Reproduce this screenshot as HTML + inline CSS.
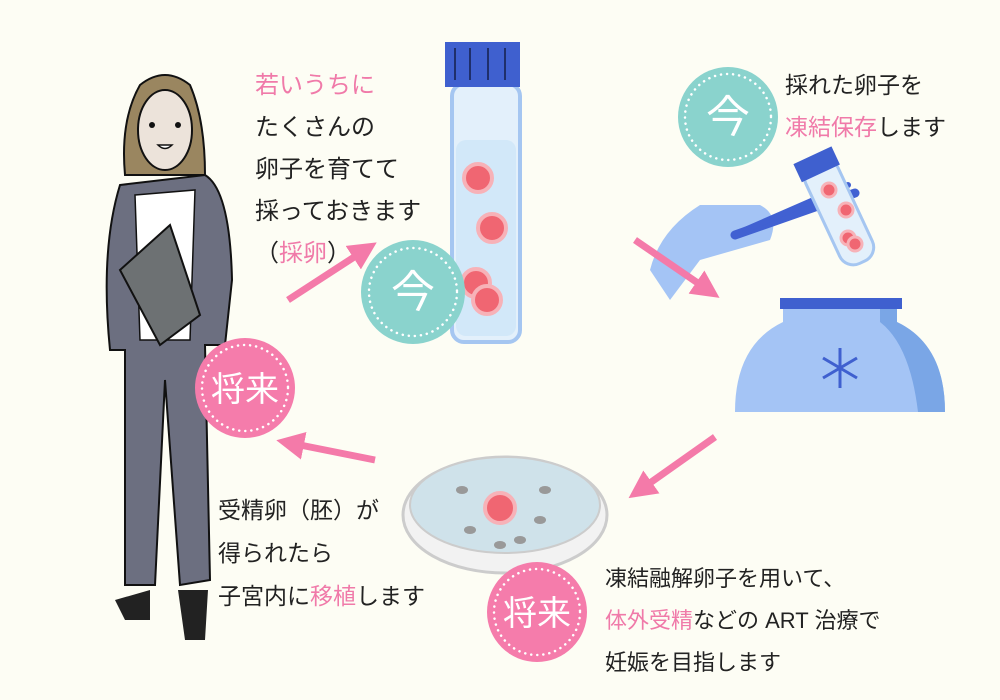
<!DOCTYPE html>
<html><head><meta charset="utf-8"><style>
body{margin:0;background:#fdfdf4}
svg{display:block}
text{font-family:"Liberation Sans","Noto Sans CJK JP",sans-serif;font-size:21px;fill:#222}
.p{fill:#f07aa9}
</style></head><body>
<svg width="1000" height="700" viewBox="0 0 1000 700">
<rect width="1000" height="700" fill="#fdfdf4"/>
<defs><marker id="ah" markerWidth="4" markerHeight="4" refX="2" refY="2" orient="auto"><path d="M0,0 L4,2 L0,4z" fill="#f47aa9"/></marker></defs>
<!-- woman -->
<path d="M140,85 Q165,65 190,85 Q205,120 205,175 L125,175 Q120,120 140,85z" fill="#9a8660" stroke="#111" stroke-width="2"/>
<ellipse cx="165" cy="130" rx="27" ry="40" fill="#ece3da" stroke="#111" stroke-width="2"/>
<circle cx="152" cy="125" r="3" fill="#111"/><circle cx="178" cy="125" r="3" fill="#111"/>
<path d="M158,145 Q165,152 172,145z" fill="#fff" stroke="#111" stroke-width="1.5"/>
<path d="M120,185 L205,175 Q230,190 232,280 L225,345 L205,345 L210,580 L180,585 L165,380 L155,585 L125,585 L125,350 L110,350 Q100,250 120,185z" fill="#6c6f80" stroke="#111" stroke-width="2"/>
<path d="M135,195 L195,190 L190,340 L140,340z" fill="#fff" stroke="#111" stroke-width="1.5"/>
<path d="M120,270 L170,225 L200,315 L160,345z" fill="#6d7173" stroke="#111" stroke-width="2"/>
<path d="M115,600 L150,590 L150,620 L125,620z M178,590 L208,590 L205,640 L185,640z" fill="#222"/>
<!-- tube -->
<rect x="452" y="84" width="68" height="258" rx="12" fill="#e3f0fb" stroke="#a5c6f1" stroke-width="4"/>
<rect x="456" y="140" width="60" height="196" rx="10" fill="#d2e8f9"/>
<rect x="445" y="42" width="75" height="45" fill="#3f60cf"/>
<g stroke="#1f2f6b" stroke-width="2"><line x1="455" y1="48" x2="455" y2="80"/><line x1="470" y1="48" x2="470" y2="80"/><line x1="488" y1="48" x2="488" y2="80"/><line x1="505" y1="48" x2="505" y2="80"/></g>
<g fill="#f06672" stroke="#f7b2b8" stroke-width="4"><circle cx="478" cy="178" r="14"/><circle cx="492" cy="228" r="14"/><circle cx="476" cy="283" r="14"/><circle cx="487" cy="300" r="14"/></g>
<!-- hand & forceps -->
<path d="M650,270 Q660,230 700,205 L760,205 Q780,215 770,240 L700,260 L670,300z" fill="#a4c4f5"/>
<path d="M735,235 L855,193" stroke="#4161d2" stroke-width="9" stroke-linecap="round"/>
<path d="M745,230 L848,185" stroke="#4161d2" stroke-width="6" stroke-linecap="round"/>
<g transform="rotate(-25 830 200)"><rect x="815" y="160" width="36" height="110" rx="15" fill="#e3f0fb" stroke="#a5c6f1" stroke-width="3"/><rect x="812" y="152" width="42" height="20" fill="#3f60cf"/></g>
<g fill="#f06672" stroke="#f7b2b8" stroke-width="3"><circle cx="829" cy="190" r="7"/><circle cx="846" cy="210" r="7"/><circle cx="848" cy="238" r="7"/><circle cx="855" cy="244" r="7"/></g>
<!-- jar -->
<path d="M783,308 L897,308 L897,322 Q945,345 945,412 L735,412 Q735,345 783,322z" fill="#a4c4f5"/>
<path d="M880,308 L897,308 L897,322 Q945,345 945,412 L918,412 Q910,345 880,322z" fill="#7aa6e6"/>
<rect x="780" y="298" width="122" height="11" fill="#3f60cf"/>
<g stroke="#3f60cf" stroke-width="3"><line x1="840" y1="348" x2="840" y2="388"/><line x1="823" y1="358" x2="857" y2="378"/><line x1="823" y1="378" x2="857" y2="358"/></g>
<!-- dish -->
<ellipse cx="505" cy="515" rx="102" ry="58" fill="#f2f2f2" stroke="#ccc" stroke-width="3"/>
<ellipse cx="505" cy="505" rx="95" ry="48" fill="#cfe2ea" stroke="#ccc" stroke-width="2"/>
<circle cx="500" cy="508" r="15" fill="#f06672" stroke="#f7b2b8" stroke-width="4"/>
<g fill="#999"><ellipse cx="462" cy="490" rx="6" ry="4"/><ellipse cx="540" cy="520" rx="6" ry="4"/><ellipse cx="520" cy="540" rx="6" ry="4"/><ellipse cx="470" cy="530" rx="6" ry="4"/><ellipse cx="545" cy="490" rx="6" ry="4"/><ellipse cx="500" cy="545" rx="6" ry="4"/></g>
<!-- arrows -->
<g stroke="#f47aa9" stroke-width="7" marker-end="url(#ah)">
<line x1="288" y1="300" x2="365" y2="250"/>
<line x1="635" y1="240" x2="708" y2="290"/>
<line x1="715" y1="437" x2="640" y2="490"/>
<line x1="375" y1="460" x2="290" y2="443"/>
</g>
<!-- circles -->
<circle cx="413" cy="292" r="52" fill="#8ad3cd"/><circle cx="413" cy="292" r="44" fill="none" stroke="#fff" stroke-width="2.5" stroke-dasharray="0.1 6" stroke-linecap="round"/>
<circle cx="728" cy="117" r="50" fill="#8ad3cd"/><circle cx="728" cy="117" r="43" fill="none" stroke="#fff" stroke-width="2.5" stroke-dasharray="0.1 6" stroke-linecap="round"/>
<circle cx="245" cy="388" r="50" fill="#f57cab"/><circle cx="245" cy="388" r="43" fill="none" stroke="#fff" stroke-width="2.5" stroke-dasharray="0.1 6" stroke-linecap="round"/>
<circle cx="537" cy="612" r="50" fill="#f57cab"/><circle cx="537" cy="612" r="43" fill="none" stroke="#fff" stroke-width="2.5" stroke-dasharray="0.1 6" stroke-linecap="round"/>
<text x="413" y="307" text-anchor="middle" style="font-size:44px;fill:#fff">今</text>
<text x="728" y="132" text-anchor="middle" style="font-size:44px;fill:#fff">今</text>
<text x="245" y="401" text-anchor="middle" style="font-size:34px;fill:#fff">将来</text>
<text x="537" y="625" text-anchor="middle" style="font-size:34px;fill:#fff">将来</text>
<!-- texts -->
<text x="255" y="93" class="p" style="font-size:24px">若いうちに</text>
<text x="255" y="135" style="font-size:24px">たくさんの</text>
<text x="255" y="177" style="font-size:24px">卵子を育てて</text>
<text x="255" y="219" style="font-size:24px">採っておきます</text>
<text x="255" y="261" style="font-size:24px">（<tspan class="p">採卵</tspan>）</text>
<text x="785" y="93" style="font-size:23px">採れた卵子を</text>
<text x="785" y="135" style="font-size:23px"><tspan class="p">凍結保存</tspan>します</text>
<text x="218" y="518" style="font-size:23px">受精卵（胚）が</text>
<text x="218" y="561" style="font-size:23px">得られたら</text>
<text x="218" y="604" style="font-size:23px">子宮内に<tspan class="p">移植</tspan>します</text>
<text x="605" y="586" style="font-size:22px">凍結融解卵子を用いて、</text>
<text x="605" y="628" style="font-size:22px"><tspan class="p">体外受精</tspan>などの ART 治療で</text>
<text x="605" y="670" style="font-size:22px">妊娠を目指します</text>
</svg>
</body></html>
